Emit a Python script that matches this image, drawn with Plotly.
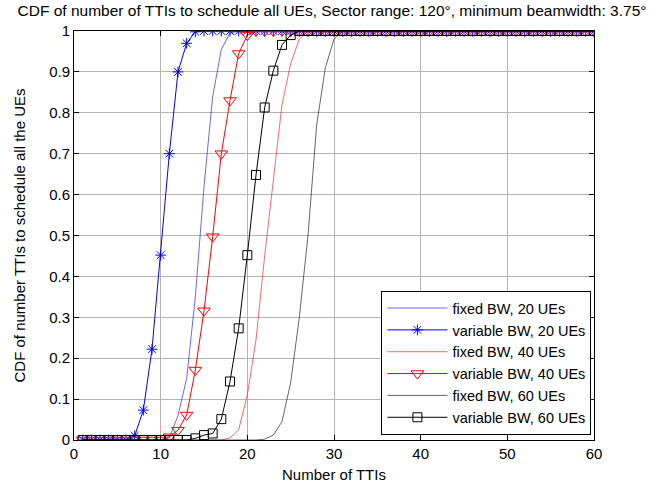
import numpy as np
import plotly.graph_objects as go

x = list(range(1, 61))

def pad(vals, start):
    # vals listed from x=start; zeros before, ones after
    out = []
    for xi in x:
        if xi < start:
            out.append(0.0)
        elif xi - start < len(vals):
            out.append(vals[xi - start])
        else:
            out.append(1.0)
    return out

fixed20_vals = [0.0, 0.005, 0.06, 0.15, 0.35, 0.62, 0.84, 0.955, 0.995, 1.0]  # from x=10
var20_vals = [0.0, 0.01, 0.073, 0.222, 0.452, 0.70, 0.90, 0.97, 0.998, 1.0]  # from x=6
fixed40_vals = [0.0, 0.005, 0.025, 0.11, 0.245, 0.45, 0.64, 0.82, 0.92, 0.98, 1.0]  # from x=17
var40_vals = [0.0, 0.008, 0.024, 0.061, 0.171, 0.316, 0.497, 0.70, 0.83, 0.945, 0.99, 1.0]  # from x=10
fixed60_vals = [0.0, 0.002, 0.012, 0.045, 0.14, 0.30, 0.50, 0.77, 0.91, 0.98, 1.0]  # from x=21
var60_vals = [0.0, 0.004, 0.012, 0.016, 0.051, 0.143, 0.273, 0.452, 0.648, 0.813, 0.903, 0.966, 0.99, 1.0]  # from x=13

fixed20 = pad(fixed20_vals, 10)
var20 = pad(var20_vals, 6)
fixed40 = pad(fixed40_vals, 17)
var40 = pad(var40_vals, 10)
fixed60 = pad(fixed60_vals, 21)
var60 = pad(var60_vals, 13)

x_ticks = [0, 10, 20, 30, 40, 50, 60]
y_ticks = [0, 0.1, 0.2, 0.3, 0.4, 0.5, 0.6, 0.7, 0.8, 0.9, 1]
y_tick_text = ["0", "0.1", "0.2", "0.3", "0.4", "0.5", "0.6", "0.7", "0.8", "0.9", "1"]

FONT = "Liberation Sans, Arial, sans-serif"

fig = go.Figure()
fig.add_trace(go.Scatter(x=x, y=fixed20, mode="lines", name="fixed BW, 20 UEs",
                         line=dict(color="#0000ff", width=0.6)))
fig.add_trace(go.Scatter(x=x, y=var20, mode="lines+markers", name="variable BW, 20 UEs",
                         line=dict(color="#0000ff", width=1),
                         marker=dict(symbol="asterisk-open", size=9, color="#0000ff",
                                     line=dict(color="#0000ff", width=1))))
fig.add_trace(go.Scatter(x=x, y=fixed40, mode="lines", name="fixed BW, 40 UEs",
                         line=dict(color="#ff0000", width=0.6)))
fig.add_trace(go.Scatter(x=x, y=var40, mode="lines+markers", name="variable BW, 40 UEs",
                         line=dict(color="#ff0000", width=1),
                         marker=dict(symbol="triangle-down-open", size=11, color="#ff0000",
                                     line=dict(color="#ff0000", width=1))))
fig.add_trace(go.Scatter(x=x, y=fixed60, mode="lines", name="fixed BW, 60 UEs",
                         line=dict(color="#000000", width=0.6)))
fig.add_trace(go.Scatter(x=x, y=var60, mode="lines+markers", name="variable BW, 60 UEs",
                         line=dict(color="#000000", width=1),
                         marker=dict(symbol="square-open", size=9, color="#000000",
                                     line=dict(color="#000000", width=1))))

axis_common = dict(showline=True, linecolor="black", linewidth=1, mirror="ticks",
                   ticks="inside", ticklen=5, tickcolor="black", automargin=False,
                   showgrid=True, gridcolor="#b4b4b4", gridwidth=1, zeroline=False,
                   tickfont=dict(family=FONT, size=15, color="black"))

fig.update_layout(
    width=664, height=486,
    margin=dict(l=74, r=70, t=31, b=46),
    paper_bgcolor="white", plot_bgcolor="white",
    font=dict(family=FONT, size=15, color="black"),
    title=dict(text="CDF of number of TTIs to schedule all UEs, Sector range: 120°, minimum beamwidth: 3.75°",
               x=0.5, xanchor="center", y=0.99, yanchor="top",
               font=dict(family=FONT, size=15.5, color="black")),
    xaxis=dict(range=[0, 60], tickvals=x_ticks,
               title=dict(text="Number of TTIs", standoff=8, font=dict(family=FONT, size=15)),
               **axis_common),
    yaxis=dict(range=[0, 1], tickvals=y_ticks, ticktext=y_tick_text,
               title=dict(text="CDF of number TTIs to schedule all the UEs", standoff=19,
                          font=dict(family=FONT, size=15)),
               **axis_common),
    legend=dict(x=0.995, xanchor="right", y=0.012, yanchor="bottom",
                bgcolor="white", bordercolor="black", borderwidth=1,
                font=dict(family=FONT, size=14.5, color="black"),
                tracegroupgap=0, itemwidth=60),
    showlegend=True,
)

fig.write_html("out.html")
